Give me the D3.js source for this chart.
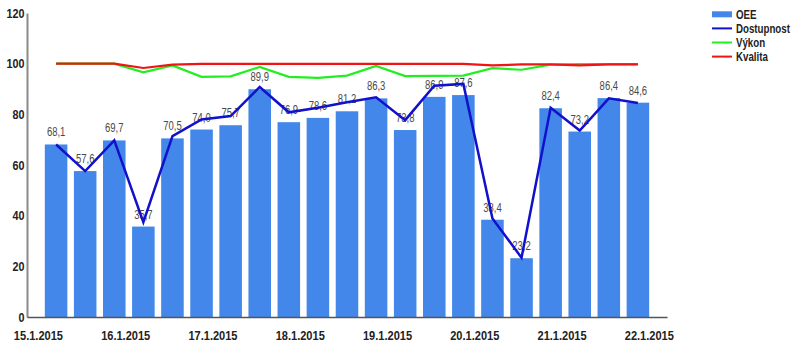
<!DOCTYPE html>
<html>
<head>
<meta charset="utf-8">
<script src="https://cdn.jsdelivr.net/npm/d3@7"></script>
<style>
  html, body { margin: 0; padding: 0; background: #fff; }
  svg { display: block; }
  svg text { font-family: "Liberation Sans", Arial, sans-serif; }
</style>
</head>
<body>
<svg id="chart" width="800" height="350"></svg>
<script>
// ---- data ----
const shifts = [
  "15.1.2015 05:00", "15.1.2015 13:00", "15.1.2015 21:00",
  "16.1.2015 05:00", "16.1.2015 13:00", "16.1.2015 21:00",
  "17.1.2015 05:00", "17.1.2015 13:00", "17.1.2015 21:00",
  "18.1.2015 05:00", "18.1.2015 13:00", "18.1.2015 21:00",
  "19.1.2015 05:00", "19.1.2015 13:00", "19.1.2015 21:00",
  "20.1.2015 05:00", "20.1.2015 13:00", "20.1.2015 21:00",
  "21.1.2015 05:00", "21.1.2015 13:00", "21.1.2015 21:00"
];
const oee = [68.1, 57.6, 69.7, 35.7, 70.5, 74.0, 75.7, 89.9, 76.9, 78.6, 81.2, 86.3, 73.8, 86.9, 87.6, 38.4, 23.2, 82.4, 73.2, 86.4, 84.6];
const dostupnost = [68.1, 57.6, 69.7, 37.4, 71.4, 78.0, 79.3, 90.8, 80.8, 82.6, 84.8, 86.7, 77.7, 91.3, 92.0, 38.9, 23.4, 82.6, 73.6, 86.3, 84.5];
const vykon = [100, 100, 100, 96.6, 99.3, 94.8, 95.0, 98.7, 94.8, 94.4, 95.3, 99.1, 95.1, 95.2, 95.3, 98.2, 97.6, 99.6, 99.8, 99.8, 99.8];
const kvalita = [100, 100, 100, 98.3, 99.6, 99.9, 99.9, 99.9, 99.9, 99.9, 99.9, 99.9, 99.9, 99.9, 99.9, 99.3, 99.7, 99.7, 99.3, 99.7, 99.7];
const xTickLabels = ["15.1.2015", "16.1.2015", "17.1.2015", "18.1.2015", "19.1.2015", "20.1.2015", "21.1.2015", "22.1.2015"];
const yTicks = [0, 20, 40, 60, 80, 100, 120];
const domainStart = "14.1.2015 21:00";
const domainEnd = "22.1.2015 05:00";
const legendNames = ["OEE", "Dostupnost", "Výkon", "Kvalita"];

// ---- setup ----
const parseTs = d3.timeParse("%d.%m.%Y %H:%M");
const parseDay = d3.timeParse("%d.%m.%Y");
const fmtDay = d3.timeFormat("%-d.%-m.%Y");
const svg = d3.select("#chart");

const colors = { oee: "#4287e9", dost: "#1111cc", vykon: "#22ee22", kval: "#ee1515" };

const x = d3.scaleTime().domain([parseTs(domainStart), parseTs(domainEnd)]).range([27, 667]);
const y = d3.scaleLinear().domain([0, 120]).range([317, 13]);

const times = shifts.map(parseTs);
const step = x(times[1]) - x(times[0]);
const bw = step * 0.775;

const rows = times.map((t, i) => ({ t, oee: oee[i], dost: dostupnost[i], vykon: vykon[i], kval: kvalita[i] }));

// bars
svg.append("g").selectAll("rect").data(rows).join("rect")
  .attr("x", d => x(d.t) - bw / 2)
  .attr("y", d => y(d.oee))
  .attr("width", bw)
  .attr("height", d => y(0) - y(d.oee))
  .attr("fill", colors.oee);

// value labels (condensed look)
const fmtVal = v => v.toFixed(1).replace(".", ",");
svg.append("g").selectAll("text").data(rows).join("text")
  .attr("transform", d => `translate(${x(d.t)},${y(d.oee) - 8}) scale(0.79,1)`)
  .attr("text-anchor", "middle")
  .attr("font-size", 12)
  .attr("fill", "#4a4a4a")
  .text(d => fmtVal(d.oee));

// axes
const yAxis = d3.axisLeft(y).tickValues(yTicks).tickSize(0).tickSizeOuter(0).tickPadding(3);
const gy = svg.append("g").attr("transform", "translate(27,0)").call(yAxis);
gy.select(".domain").attr("stroke", "#8a8a8a").attr("stroke-width", 2);
gy.selectAll("text").attr("font-size", 13).attr("font-weight", "bold").attr("fill", "#222")
  .attr("font-family", null).attr("transform", "scale(0.83,1)");

const xAxis = d3.axisBottom(x).tickValues(xTickLabels.map(parseDay)).tickFormat(fmtDay).tickSize(0).tickSizeOuter(0).tickPadding(14);
const gx = svg.append("g").attr("transform", "translate(0,317)").call(xAxis);
gx.select(".domain").attr("stroke", "#555").attr("stroke-width", 1.5);
gx.selectAll("text").attr("font-size", 13).attr("font-weight", "bold").attr("fill", "#222")
  .attr("transform", "scale(0.85,1)");
svg.selectAll("g.tick text, g[font-family]").attr("font-family", null);

// lines
const mkLine = key => d3.line().x(d => x(d.t)).y(d => y(d[key]));
svg.append("path").datum(rows).attr("d", mkLine("dost")).attr("fill", "none").attr("stroke", colors.dost).attr("stroke-width", 2.5);
svg.append("path").datum(rows).attr("d", mkLine("vykon")).attr("fill", "none").attr("stroke", colors.vykon).attr("stroke-width", 2.2);
svg.append("path").datum(rows).attr("d", mkLine("kval")).attr("fill", "none").attr("stroke", colors.kval).attr("stroke-width", 2.2);

// legend
const legColors = [colors.oee, colors.dost, colors.vykon, colors.kval];
const lg = svg.append("g").attr("transform", "translate(712,0)");
legendNames.forEach((name, i) => {
  const cy = 14.3 + i * 14.1;
  if (i === 0) {
    lg.append("rect").attr("x", 0).attr("y", cy - 3).attr("width", 20).attr("height", 6).attr("fill", legColors[i]);
  } else {
    lg.append("line").attr("x1", 0).attr("x2", 20).attr("y1", cy).attr("y2", cy).attr("stroke", legColors[i]).attr("stroke-width", 2);
  }
  lg.append("text").attr("transform", `translate(24,${cy}) scale(0.81,1)`).attr("dy", "0.35em")
    .attr("font-size", 12).attr("font-weight", "bold").attr("fill", "#222").text(name);
});
</script>
</body>
</html>
